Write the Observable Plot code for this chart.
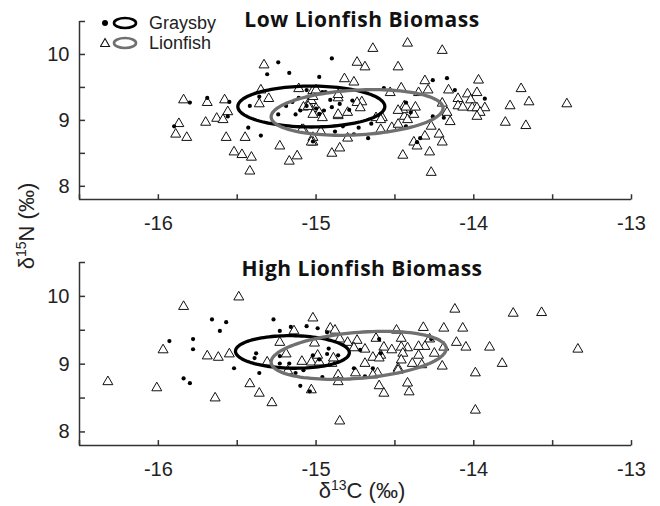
<!DOCTYPE html>
<html>
<head>
<meta charset="utf-8">
<script src="https://cdn.jsdelivr.net/npm/d3@7"></script>
<script src="https://cdn.jsdelivr.net/npm/@observablehq/plot@0.6"></script>
<style>
  html, body { margin: 0; padding: 0; background: #fff; }
  #fig { position: relative; width: 660px; height: 506px; background: #fff; font-family: "Liberation Sans", Arial, sans-serif; color: #222; }
  .panel { position: absolute; left: 0; }
  .title { position: absolute; font-family: "Open Sans", sans-serif; font-weight: 700; font-size: 21px; letter-spacing: 0.5px; color: #111; white-space: nowrap; transform: translate(-50%, -50%); }
  .axlabel { position: absolute; font-size: 22px; white-space: nowrap; color: #222; }
  .axlabel sup { font-size: 14px; vertical-align: 8px; line-height: 0; }
  #legend { position: absolute; left: 100px; top: 13px; font-size: 18px; line-height: 20px; }
  #legend div { display: flex; align-items: center; height: 20px; }
  #legend svg { display: block; margin-right: 3px; }
</style>
</head>
<body>
<div id="fig"></div>
<script>
// δ13C (x) and δ15N (y) values, one [δ13C, δ15N] pair per fish
const lowGraysby = [
  [-15.24,9.88],[-15.31,9.70],[-15.17,9.72],[-14.98,9.66],[-14.90,9.94],[-15.80,9.27],[-15.69,9.34],
  [-15.55,9.28],[-15.56,9.06],[-15.90,8.91],[-15.43,8.89],[-15.35,8.77],[-15.42,9.22],[-15.36,9.36],
  [-15.24,9.09],[-15.11,9.34],[-15.05,9.36],[-15.13,9.09],[-15.19,9.22],[-14.88,8.83],[-14.96,9.43],
  [-14.91,9.31],[-14.26,9.61],[-14.17,9.64],[-14.12,9.46],[-13.93,9.33],[-14.19,9.04],[-14.26,9.06],
  [-14.40,9.12],[-14.43,9.27],[-14.57,9.49],[-14.77,9.30],[-14.79,9.16],[-14.90,9.20],[-14.95,9.15],
  [-14.94,9.43],[-15.06,9.46],[-14.83,8.91],[-14.76,8.79],[-14.73,8.89],[-14.67,8.73],[-14.65,8.95],
  [-14.43,8.91],[-14.34,8.73],[-14.36,8.67],[-15.02,8.68],[-15.06,9.22],[-15.00,9.18],[-14.98,9.10],
  [-15.10,9.15],[-15.15,9.28],[-14.85,9.25]
];
const lowLionfish = [
  [-15.33,9.84],[-15.84,9.31],[-15.69,9.27],[-15.58,9.31],[-15.56,9.13],[-15.87,8.95],[-15.70,8.97],
  [-15.63,9.03],[-15.59,9.01],[-15.89,8.79],[-15.82,8.74],[-15.57,8.74],[-15.45,8.74],[-15.52,8.52],
  [-15.47,8.48],[-15.41,8.44],[-15.42,8.23],[-15.23,8.61],[-15.17,8.38],[-15.12,8.46],[-15.36,9.25],
  [-15.35,9.46],[-15.30,9.33],[-15.11,9.48],[-15.02,9.45],[-15.02,8.74],[-15.02,8.67],[-15.08,8.86],
  [-14.97,8.83],[-14.90,8.50],[-14.86,9.07],[-15.05,9.25],[-15.00,9.18],[-14.98,9.12],[-15.03,9.30],
  [-15.08,9.20],[-14.64,10.09],[-14.42,10.17],[-14.20,10.06],[-14.74,9.88],[-14.69,9.81],[-14.48,9.81],
  [-14.82,9.63],[-14.76,9.58],[-14.31,9.60],[-13.97,9.61],[-14.46,9.49],[-14.29,9.46],[-14.16,9.46],
  [-14.04,9.40],[-13.98,9.42],[-13.70,9.48],[-13.65,9.28],[-13.77,9.22],[-13.80,8.97],[-13.67,8.92],
  [-14.10,9.33],[-14.02,9.31],[-14.10,9.22],[-14.07,9.20],[-14.01,9.19],[-13.98,9.19],[-13.93,9.19],
  [-13.96,9.12],[-13.98,9.06],[-14.17,9.12],[-14.15,8.98],[-14.20,9.26],[-14.27,8.91],[-14.31,8.76],
  [-14.22,8.79],[-14.20,8.67],[-14.28,8.52],[-14.45,8.47],[-14.27,8.21],[-14.38,8.67],[-14.36,8.61],
  [-14.85,8.58],[-15.03,8.67],[-14.59,8.86],[-14.52,8.89],[-14.48,8.94],[-14.44,9.06],[-14.42,9.01],
  [-14.38,9.09],[-14.45,9.16],[-14.44,9.22],[-14.43,9.20],[-14.48,9.15],[-14.37,9.20],[-14.35,9.42],
  [-14.53,9.42],[-14.58,9.04],[-14.62,9.04],[-14.71,9.28],[-14.74,9.27],[-14.72,9.19],[-14.86,9.09],
  [-14.80,9.12],[-14.96,9.04],[-15.02,9.09],[-15.05,9.21],[-15.02,9.36],[-15.00,9.46],[-14.86,9.34],
  [-14.86,9.39],[-15.09,8.86],[-14.80,8.73],[-14.59,9.01],[-13.41,9.25]
];
const highGraysby = [
  [-15.93,9.34],[-15.78,9.37],[-15.78,9.22],[-15.66,9.66],[-15.57,9.62],[-15.61,9.49],[-15.84,8.79],
  [-15.80,8.72],[-15.52,8.94],[-15.38,9.16],[-15.39,9.09],[-15.36,8.87],[-15.27,9.66],[-15.23,9.49],
  [-15.16,9.55],[-15.06,9.56],[-15.10,8.68],[-15.04,8.60],[-15.23,9.12],[-15.23,9.01],[-15.17,9.01],
  [-15.13,8.87],[-15.08,8.91],[-15.02,9.13],[-14.98,9.07],[-14.96,8.81],[-14.93,9.15],[-14.86,9.13],
  [-14.99,9.53],[-14.93,9.40],[-14.93,9.47],[-14.92,9.23],[-14.60,9.37],[-14.59,9.16],[-14.27,9.37],
  [-14.76,8.94],[-14.69,8.82],[-14.64,8.94],[-14.72,9.21]
];
const highLionfish = [
  [-16.32,8.74],[-16.01,8.65],[-15.84,9.85],[-15.97,9.21],[-15.69,9.12],[-15.62,9.10],[-15.55,9.15],
  [-15.49,9.99],[-15.64,8.50],[-15.42,8.71],[-15.36,8.57],[-15.28,8.43],[-15.31,9.03],[-15.23,9.32],
  [-15.19,9.15],[-15.14,9.49],[-15.02,9.68],[-15.09,9.04],[-15.03,9.03],[-14.98,9.03],[-14.99,9.13],
  [-15.01,9.31],[-14.91,9.53],[-14.88,9.50],[-14.90,9.01],[-15.03,8.62],[-15.18,8.90],
  [-14.86,8.84],[-14.86,8.74],[-14.12,9.81],[-13.75,9.75],[-13.57,9.76],[-13.34,9.22],[-14.49,9.50],
  [-14.32,9.54],[-14.19,9.53],[-14.07,9.53],[-14.85,9.37],[-14.80,9.32],[-14.74,9.35],[-14.62,9.38],
  [-14.46,9.38],[-14.28,9.37],[-14.11,9.32],[-14.05,9.25],[-13.90,9.25],[-14.19,9.25],[-14.25,9.16],
  [-14.35,9.13],[-14.31,9.26],[-14.35,9.26],[-14.42,9.24],[-14.46,9.25],[-14.45,9.16],[-14.46,9.06],
  [-14.39,9.01],[-14.33,8.99],[-14.48,8.94],[-14.48,8.91],[-14.57,9.25],[-14.52,9.21],[-14.59,9.13],
  [-14.64,9.10],[-14.60,9.09],[-14.69,9.22],[-14.76,9.24],[-14.69,9.01],[-14.75,8.87],[-14.61,8.87],
  [-14.64,8.84],[-14.60,8.68],[-14.57,8.57],[-14.42,8.72],[-14.41,8.59],[-14.20,8.97],[-13.99,8.87],
  [-13.82,9.01],[-13.99,8.32],[-14.85,8.16],[-14.89,9.09]
];

// Standard ellipse per species: centre, semi-axes (δ13C, δ15N) and a small tilt (slope)
const ellipseSpecies = ["Graysby", "Lionfish"];
const ellipseColors = ["#000000", "#707070"];
const lowEllipseCentre = [[-15.03, 9.21], [-14.74, 9.12]];
const lowEllipseAxes = [[0.466, 0.31], [0.545, 0.34]];
const lowEllipseTilt = [0, 0.12];
const highEllipseCentre = [[-15.15, 9.18], [-14.73, 9.13]];
const highEllipseAxes = [[0.361, 0.24], [0.555, 0.34]];
const highEllipseTilt = [-0.03, 0.18];

// Axis ticks and labels
const xDomain = [-16.5, -13];
const yDomain = [7.8, 10.5];
const xTicks = [-16.5, -16, -15.5, -15, -14.5, -14, -13.5, -13];
const xLabels = [-16, -15, -14, -13];
const yTicks = [8, 8.5, 9, 9.5, 10, 10.5];
const yLabels = [8, 9, 10];
// inward tick length, in axis units (about 5px on each axis)
const xTickLen = 0.08;
const yTickLen = 0.035;

const panelTitles = ["Low Lionfish Biomass", "High Lionfish Biomass"];

function ellipseOutline(centres, axes, tilts) {
  const out = [];
  centres.forEach(([cx, cy], i) => {
    const [a, b] = axes[i];
    for (let k = 0; k <= 120; k++) {
      const t = (2 * Math.PI * k) / 120;
      const dx = a * Math.cos(t);
      out.push({species: ellipseSpecies[i], c: cx + dx, n: cy + b * Math.sin(t) + tilts[i] * dx});
    }
  });
  return out;
}

function panel(graysby, lionfish, centres, axes, tilts, height, marginTop, marginBottom) {
  const ell = ellipseOutline(centres, axes, tilts);
  return Plot.plot({
    width: 660,
    height,
    marginLeft: 79,
    marginRight: 29,
    marginTop,
    marginBottom,
    style: {fontFamily: "'Liberation Sans', Arial, sans-serif", fontSize: "20px", color: "#222", background: "white"},
    x: {domain: xDomain, label: null},
    y: {domain: yDomain, label: null},
    color: {domain: ellipseSpecies, range: ellipseColors},
    marks: [
      // axis lines
      Plot.ruleY([yDomain[0]], {stroke: "#333", strokeWidth: 1.5}),
      Plot.ruleX([xDomain[0]], {stroke: "#333", strokeWidth: 1.5}),
      // inward tick marks
      Plot.link(xTicks, {x1: d => d, x2: d => d, y1: () => yDomain[0], y2: () => yDomain[0] + xTickLen, stroke: "#333", strokeWidth: 1.5}),
      Plot.link(yTicks, {y1: d => d, y2: d => d, x1: () => xDomain[0], x2: () => xDomain[0] + yTickLen, stroke: "#333", strokeWidth: 1.5}),
      Plot.axisX({ticks: xLabels, tickSize: 0, tickPadding: 16, tickFormat: d => String(d), fill: "#222", label: null}),
      Plot.axisY({ticks: yLabels, tickSize: 0, tickPadding: 10, tickFormat: d => String(d), fill: "#222", label: null}),
      Plot.dot(lionfish, {x: d => d[0], y: d => d[1], symbol: "triangle", r: 3.7, stroke: "#111", strokeWidth: 1, fill: "white"}),
      Plot.dot(graysby, {x: d => d[0], y: d => d[1], r: 2.1, fill: "#000", stroke: "none"}),
      Plot.line(ell, {x: "c", y: "n", z: "species", stroke: "species", strokeWidth: 3.3})
    ]
  });
}

const fig = document.getElementById("fig");

const lowPanel = panel(lowGraysby, lowLionfish, lowEllipseCentre, lowEllipseAxes, lowEllipseTilt, 240, 21, 41);
lowPanel.classList.add("panel");
lowPanel.style.top = "0px";
fig.appendChild(lowPanel);

const highPanel = panel(highGraysby, highLionfish, highEllipseCentre, highEllipseAxes, highEllipseTilt, 261, 17, 61);
highPanel.classList.add("panel");
highPanel.style.top = "245px";
fig.appendChild(highPanel);

// Panel titles
[[362, 19], [362, 268]].forEach(([x, y], i) => {
  const t = document.createElement("div");
  t.className = "title";
  t.style.left = x + "px";
  t.style.top = y + "px";
  t.textContent = panelTitles[i];
  fig.appendChild(t);
});

// Axis titles
const xTitle = document.createElement("div");
xTitle.className = "axlabel";
xTitle.innerHTML = "δ<sup>13</sup>C (‰)";
xTitle.style.left = "362px"; xTitle.style.top = "491px"; xTitle.style.transform = "translate(-50%, -50%)";
fig.appendChild(xTitle);

const yTitle = document.createElement("div");
yTitle.className = "axlabel";
yTitle.innerHTML = "δ<sup>15</sup>N (‰)";
yTitle.style.left = "27px"; yTitle.style.top = "226px"; yTitle.style.transform = "translate(-50%, -50%) rotate(-90deg)";
fig.appendChild(yTitle);

// Legend
const legendBox = document.createElement("div");
legendBox.id = "legend";
legendBox.innerHTML = `
  <div><svg width="46" height="14"><circle cx="5" cy="7" r="3" fill="#000"/><ellipse cx="25" cy="7" rx="11" ry="5" fill="none" stroke="#000" stroke-width="2.6"/></svg>${ellipseSpecies[0]}</div>
  <div><svg width="46" height="14"><path d="M5 2.5 L9.5 10.5 L0.5 10.5 Z" fill="white" stroke="#111" stroke-width="1.1"/><ellipse cx="25" cy="7" rx="11" ry="5" fill="none" stroke="#707070" stroke-width="2.6"/></svg>${ellipseSpecies[1]}</div>`;
fig.appendChild(legendBox);
</script>
</body>
</html>
